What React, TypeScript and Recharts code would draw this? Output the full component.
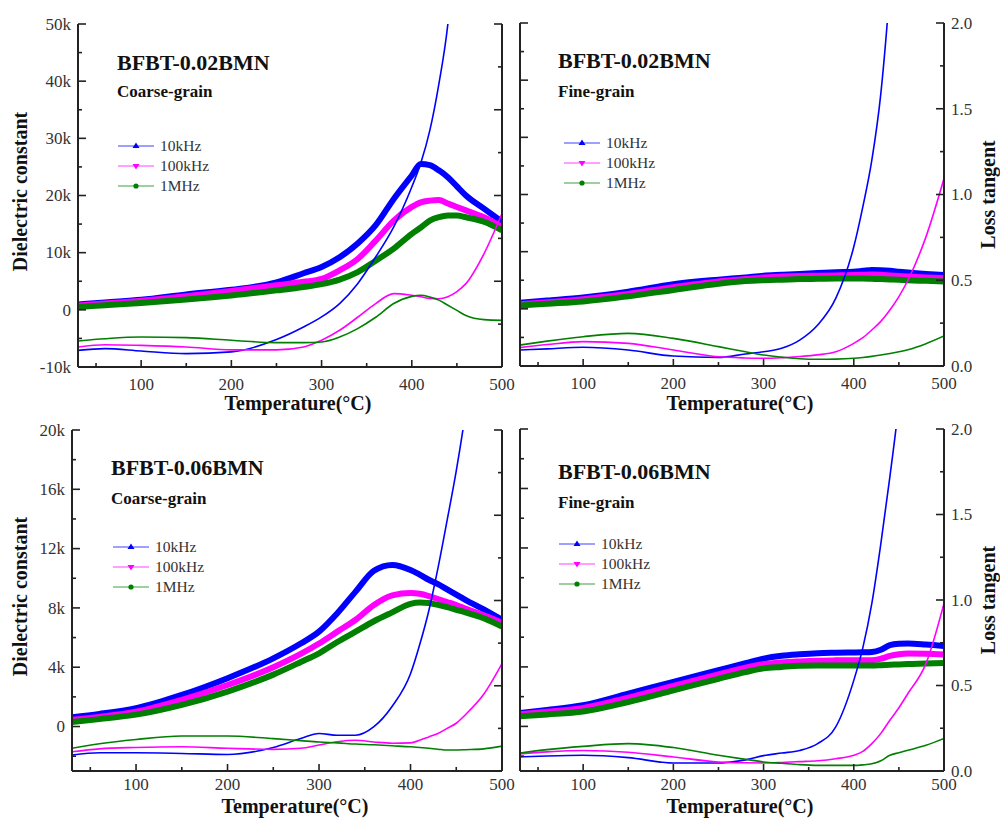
import { LineChart, Line, XAxis, YAxis, Legend } from 'recharts';

// temperature grid (°C) shared by every curve
const TEMPS = [30, 60, 100, 150, 200, 250, 280, 300, 320, 340, 360, 380, 400, 410, 420, 430, 440, 450, 460, 480, 500];

// BFBT-0.02BMN coarse-grain
const eps02c10k = [930, 1300, 1750, 2700, 3500, 4800, 6400, 7500, 9200, 11600, 14800, 19400, 23500, 25500, 25300, 24400, 23200, 21600, 20000, 17700, 15400];
const eps02c100k = [750, 1100, 1600, 2400, 3300, 4300, 4900, 5400, 6900, 8900, 12100, 15600, 18000, 18800, 19100, 19200, 18600, 18000, 17400, 16200, 14500];
const eps02c1m = [500, 800, 1200, 1800, 2500, 3400, 4000, 4500, 5300, 6600, 8600, 10700, 13300, 14400, 15600, 16200, 16500, 16500, 16200, 15400, 13900];
const tan02c10k = [0.097, 0.107, 0.093, 0.078, 0.088, 0.16, 0.233, 0.292, 0.37, 0.486, 0.642, 0.817, 1.05, 1.19, 1.38, 1.65, 2.0, 2.6, 3.3, 5, 7];
const tan02c100k = [0.117, 0.13, 0.126, 0.117, 0.1, 0.1, 0.117, 0.156, 0.214, 0.29, 0.37, 0.428, 0.418, 0.41, 0.4, 0.398, 0.41, 0.44, 0.486, 0.66, 0.895];
const tan02c1m = [0.152, 0.165, 0.175, 0.171, 0.156, 0.142, 0.142, 0.146, 0.175, 0.224, 0.29, 0.37, 0.412, 0.418, 0.408, 0.39, 0.36, 0.33, 0.3, 0.276, 0.272];

// BFBT-0.02BMN fine-grain
const eps02f10k = [1050, 1450, 2000, 3000, 4300, 5100, 5500, 5800, 5950, 6100, 6250, 6400, 6500, 6650, 6800, 6750, 6650, 6500, 6350, 6100, 5900];
const eps02f100k = [800, 1150, 1700, 2600, 3800, 4800, 5200, 5500, 5650, 5750, 5800, 5850, 5900, 5950, 6000, 5950, 5850, 5750, 5650, 5500, 5400];
const eps02f1m = [600, 900, 1300, 2200, 3300, 4400, 4850, 5000, 5100, 5200, 5250, 5300, 5300, 5300, 5250, 5200, 5150, 5100, 5000, 4900, 4800];
const tan02f10k = [0.093, 0.1, 0.109, 0.093, 0.058, 0.05, 0.07, 0.083, 0.103, 0.151, 0.239, 0.394, 0.695, 0.928, 1.2, 1.59, 2.2, 3.0, 4, 6, 8];
const tan02f100k = [0.107, 0.125, 0.142, 0.132, 0.093, 0.054, 0.047, 0.045, 0.048, 0.055, 0.065, 0.083, 0.132, 0.165, 0.21, 0.26, 0.326, 0.405, 0.5, 0.753, 1.093];
const tan02f1m = [0.122, 0.145, 0.171, 0.19, 0.161, 0.113, 0.083, 0.064, 0.052, 0.042, 0.039, 0.04, 0.045, 0.05, 0.056, 0.064, 0.073, 0.083, 0.095, 0.13, 0.175];

// BFBT-0.06BMN coarse-grain
const eps06c10k = [630, 850, 1240, 2130, 3260, 4600, 5600, 6400, 7640, 9100, 10500, 10900, 10560, 10250, 9900, 9600, 9250, 8900, 8550, 7900, 7200];
const eps06c100k = [450, 650, 1000, 1800, 2800, 4000, 4900, 5600, 6400, 7200, 8200, 8850, 9000, 8950, 8800, 8600, 8400, 8200, 7950, 7500, 7000];
const eps06c1m = [300, 500, 800, 1460, 2360, 3500, 4350, 4940, 5700, 6400, 7100, 7700, 8270, 8360, 8330, 8200, 8050, 7870, 7700, 7300, 6740];
const tan06c10k = [0.094, 0.107, 0.107, 0.103, 0.097, 0.138, 0.19, 0.22, 0.21, 0.21, 0.26, 0.38, 0.57, 0.74, 0.94, 1.19, 1.47, 1.76, 2.1, 3, 4];
const tan06c100k = [0.113, 0.13, 0.138, 0.142, 0.133, 0.127, 0.133, 0.152, 0.172, 0.18, 0.17, 0.163, 0.165, 0.18, 0.2, 0.22, 0.25, 0.28, 0.33, 0.45, 0.63];
const tan06c1m = [0.133, 0.16, 0.185, 0.205, 0.205, 0.19, 0.178, 0.17, 0.165, 0.158, 0.154, 0.148, 0.142, 0.138, 0.133, 0.128, 0.123, 0.123, 0.125, 0.13, 0.146];

// BFBT-0.06BMN fine-grain
const eps06f10k = [900, 1100, 1420, 2200, 3000, 3780, 4250, 4560, 4750, 4850, 4920, 4950, 4970, 4980, 5000, 5150, 5460, 5550, 5570, 5500, 5400];
const eps06f100k = [820, 980, 1240, 1940, 2720, 3490, 3950, 4180, 4300, 4370, 4420, 4440, 4450, 4450, 4450, 4550, 4740, 4850, 4900, 4880, 4830];
const eps06f1m = [680, 800, 1000, 1640, 2420, 3200, 3650, 3900, 4000, 4080, 4100, 4100, 4100, 4100, 4100, 4120, 4150, 4170, 4200, 4230, 4270];
const tan06f10k = [0.082, 0.088, 0.092, 0.078, 0.047, 0.047, 0.065, 0.09, 0.105, 0.12, 0.16, 0.258, 0.53, 0.72, 0.98, 1.33, 1.72, 2.15, 2.7, 4, 5.5];
const tan06f100k = [0.1, 0.112, 0.12, 0.11, 0.082, 0.053, 0.048, 0.047, 0.05, 0.055, 0.06, 0.072, 0.092, 0.115, 0.16, 0.22, 0.297, 0.37, 0.453, 0.628, 0.98];
const tan06f1m = [0.105, 0.125, 0.144, 0.16, 0.137, 0.092, 0.068, 0.053, 0.045, 0.037, 0.033, 0.033, 0.033, 0.036, 0.042, 0.06, 0.092, 0.107, 0.121, 0.15, 0.19];

// ticks (minor + major)
const X_TICKS = [50, 100, 150, 200, 250, 300, 350, 400, 450, 500];
const EPS_TICKS_02 = [-10000, -5000, 0, 5000, 10000, 15000, 20000, 25000, 30000, 35000, 40000, 45000, 50000];
const EPS_TICKS_06 = [-2000, 0, 2000, 4000, 6000, 8000, 10000, 12000, 14000, 16000, 18000, 20000];
const TAN_TICKS = [0, 0.25, 0.5, 0.75, 1, 1.25, 1.5, 1.75, 2];

const SERIES_NAMES = ['10kHz', '100kHz', '1MHz'];
const EPS_KEYS = ['e10k', 'e100k', 'e1m'];
const TAN_KEYS = ['d10k', 'd100k', 'd1m'];

const BLUE = '#0000ff';
const MAGENTA = '#ff00ff';
const GREEN = '#007f00';
const FRAME = '#222';
const FONT = "'Liberation Serif', 'Times New Roman', serif";

const LEFT_W = 70;
const RIGHT_W = 56;
const TOP_M = 10;
const XAXIS_H = 48;

const TICK_STYLE = { fontFamily: FONT, fontSize: 17, fill: '#333' };
const AXIS_TITLE = { fontFamily: FONT, fontSize: 20, fontWeight: 700, fill: '#111' };

type Panel = {
  title: string;
  sub: string;
  plot: { x0: number; y0: number; x1: number; y1: number };
  epsDomain: [number, number];
  epsTicks: number[];
  epsMajor: number;
  side: 'left' | 'right';
  eps: number[][];
  tan: number[][];
  titleAt: [number, number];
  subAt: [number, number];
  legendAt: [number, number];
  xTickDy: number;
  xTitleDy: number;
};

const PANELS: Panel[] = [
  {
    title: 'BFBT-0.02BMN', sub: 'Coarse-grain',
    plot: { x0: 78, y0: 24, x1: 502, y1: 367 },
    epsDomain: [-10000, 50000], epsTicks: EPS_TICKS_02, epsMajor: 10000, side: 'left',
    eps: [eps02c10k, eps02c100k, eps02c1m], tan: [tan02c10k, tan02c100k, tan02c1m],
    titleAt: [117, 70], subAt: [117, 97], legendAt: [118, 136], xTickDy: 23, xTitleDy: 43,
  },
  {
    title: 'BFBT-0.02BMN', sub: 'Fine-grain',
    plot: { x0: 520, y0: 23, x1: 944, y1: 366 },
    epsDomain: [-10000, 50000], epsTicks: EPS_TICKS_02, epsMajor: 10000, side: 'right',
    eps: [eps02f10k, eps02f100k, eps02f1m], tan: [tan02f10k, tan02f100k, tan02f1m],
    titleAt: [558, 68], subAt: [558, 97], legendAt: [564, 133], xTickDy: 23, xTitleDy: 44,
  },
  {
    title: 'BFBT-0.06BMN', sub: 'Coarse-grain',
    plot: { x0: 72, y0: 430, x1: 502, y1: 771 },
    epsDomain: [-3000, 20000], epsTicks: EPS_TICKS_06, epsMajor: 4000, side: 'left',
    eps: [eps06c10k, eps06c100k, eps06c1m], tan: [tan06c10k, tan06c100k, tan06c1m],
    titleAt: [111, 475], subAt: [111, 504], legendAt: [113, 537], xTickDy: 19, xTitleDy: 42,
  },
  {
    title: 'BFBT-0.06BMN', sub: 'Fine-grain',
    plot: { x0: 520, y0: 429, x1: 944, y1: 771 },
    epsDomain: [-3000, 20000], epsTicks: EPS_TICKS_06, epsMajor: 4000, side: 'right',
    eps: [eps06f10k, eps06f100k, eps06f1m], tan: [tan06f10k, tan06f100k, tan06f1m],
    titleAt: [558, 479], subAt: [558, 508], legendAt: [559, 534], xTickDy: 19, xTitleDy: 42,
  },
];

const fmtK = (v: number) => (v === 0 ? '0' : `${v / 1000}k`);
const isMajor = (v: number, step: number) => Math.abs(v / step - Math.round(v / step)) < 1e-6;

const xTick = (dy: number) => (p: any) => {
  const v = p.payload.value;
  const major = isMajor(v, 100);
  return (
    <g>
      <line x1={p.x} x2={p.x} y1={p.y} y2={p.y - (major ? 7 : 4)} stroke={FRAME} strokeWidth={1.6} />
      {major && (
        <text x={p.x} y={p.y + dy} textAnchor="middle" style={TICK_STYLE}>
          {v}
        </text>
      )}
    </g>
  );
};

const epsTick = (show: boolean, step: number) => (p: any) => {
  const v = p.payload.value;
  const major = isMajor(v, step);
  return (
    <g>
      <line x1={p.x} x2={p.x + (major ? 8 : 4)} y1={p.y} y2={p.y} stroke={FRAME} strokeWidth={1.6} />
      {show && major && (
        <text x={p.x - 7} y={p.y} dy="0.34em" textAnchor="end" style={TICK_STYLE}>
          {fmtK(v)}
        </text>
      )}
    </g>
  );
};

const tanTick = (show: boolean) => (p: any) => {
  const v = p.payload.value;
  const major = isMajor(v, 0.5);
  return (
    <g>
      <line x1={p.x} x2={p.x - (major ? 8 : 4)} y1={p.y} y2={p.y} stroke={FRAME} strokeWidth={1.6} />
      {show && major && (
        <text x={p.x + 7} y={p.y} dy="0.34em" textAnchor="start" style={TICK_STYLE}>
          {v.toFixed(1)}
        </text>
      )}
    </g>
  );
};

const marker = (key: string, color: string) => {
  if (key === 'e10k') return <polygon points="18,6.5 21.5,12 14.5,12" fill={color} />;
  if (key === 'e100k') return <polygon points="14.5,8 21.5,8 18,13.5" fill={color} />;
  return <circle cx={18} cy={10} r={2.6} fill={color} />;
};

const renderLegend = (props: any) => {
  const items = (props.payload || [])
    .filter((e: any) => EPS_KEYS.includes(String(e.dataKey)))
    .sort((a: any, b: any) => EPS_KEYS.indexOf(String(a.dataKey)) - EPS_KEYS.indexOf(String(b.dataKey)));
  return (
    <div style={{ fontFamily: FONT, fontSize: 15.5, color: '#333' }}>
      {items.map((e: any) => (
        <div key={e.value} style={{ display: 'flex', alignItems: 'center', height: 20 }}>
          <svg width={42} height={20} style={{ display: 'block' }}>
            <line x1={0} x2={36} y1={10} y2={10} stroke={e.color} strokeWidth={1.3} strokeOpacity={0.5} />
            {marker(String(e.dataKey), e.color)}
          </svg>
          <span style={{ lineHeight: '20px' }}>{e.value}</span>
        </div>
      ))}
    </div>
  );
};

function PanelChart({ cfg }: { cfg: Panel }) {
  const { x0, y0, x1, y1 } = cfg.plot;
  const left = x0 - LEFT_W;
  const top = y0 - TOP_M;
  const width = x1 - x0 + LEFT_W + RIGHT_W;
  const height = y1 - y0 + TOP_M + XAXIS_H;
  const plotBottom = height - XAXIS_H;
  const onLeft = cfg.side === 'left';

  const data = TEMPS.map((t, i) => ({
    t,
    e10k: cfg.eps[0][i],
    e100k: cfg.eps[1][i],
    e1m: cfg.eps[2][i],
    d10k: cfg.tan[0][i],
    d100k: cfg.tan[1][i],
    d1m: cfg.tan[2][i],
  }));

  const frame = { stroke: FRAME, strokeWidth: 2 };
  const colors = [BLUE, MAGENTA, GREEN];

  return (
    <div style={{ position: 'absolute', left, top, width, height }}>
      <LineChart width={width} height={height} data={data} margin={{ top: TOP_M, right: 0, bottom: 0, left: 0 }}>
        <XAxis
          xAxisId="b"
          dataKey="t"
          type="number"
          domain={[30, 500]}
          ticks={X_TICKS}
          interval={0}
          height={XAXIS_H}
          tickSize={0}
          tickMargin={0}
          tickLine={false}
          axisLine={frame}
          tick={xTick(cfg.xTickDy)}
          allowDataOverflow
          label={() => (
            <text x={LEFT_W + (x1 - x0) / 2 + 8} y={plotBottom + cfg.xTitleDy} textAnchor="middle" style={AXIS_TITLE}>
              Temperature(°C)
            </text>
          )}
        />
        <XAxis
          xAxisId="t"
          orientation="top"
          dataKey="t"
          type="number"
          domain={[30, 500]}
          height={0}
          tick={false}
          tickLine={false}
          axisLine={frame}
          allowDataOverflow
        />
        <YAxis
          yAxisId="eps"
          type="number"
          domain={cfg.epsDomain}
          ticks={cfg.epsTicks}
          interval={0}
          width={LEFT_W}
          tickSize={0}
          tickMargin={0}
          tickLine={false}
          axisLine={frame}
          tick={epsTick(onLeft, cfg.epsMajor)}
          allowDataOverflow
          label={
            onLeft
              ? () => {
                  const bx = 26.5 - left;
                  const cy = TOP_M + (y1 - y0) / 2 - 4;
                  return (
                    <text x={bx} y={cy} textAnchor="middle" transform={`rotate(-90 ${bx} ${cy})`} style={AXIS_TITLE}>
                      Dielectric constant
                    </text>
                  );
                }
              : undefined
          }
        />
        <YAxis
          yAxisId="tan"
          orientation="right"
          type="number"
          domain={[0, 2]}
          ticks={TAN_TICKS}
          interval={0}
          width={RIGHT_W}
          tickSize={0}
          tickMargin={0}
          tickLine={false}
          axisLine={frame}
          tick={tanTick(!onLeft)}
          allowDataOverflow
          label={
            !onLeft
              ? () => {
                  const bx = 995 - left;
                  const cy = TOP_M + (y1 - y0) / 2;
                  return (
                    <text x={bx} y={cy} textAnchor="middle" transform={`rotate(-90 ${bx} ${cy})`} style={AXIS_TITLE}>
                      Loss tangent
                    </text>
                  );
                }
              : undefined
          }
        />
        <Legend
          layout="vertical"
          align="center"
          verticalAlign="middle"
          content={renderLegend}
          wrapperStyle={{ left: cfg.legendAt[0] - left, top: cfg.legendAt[1] - top, width: 'auto', height: 'auto' }}
        />
        {EPS_KEYS.map((k, i) => (
          <Line
            key={k}
            xAxisId="b"
            yAxisId="eps"
            type="monotone"
            dataKey={k}
            name={SERIES_NAMES[i]}
            stroke={colors[i]}
            strokeWidth={6}
            strokeLinejoin="round"
            dot={false}
            activeDot={false}
            isAnimationActive={false}
          />
        ))}
        {TAN_KEYS.map((k, i) => (
          <Line
            key={k}
            xAxisId="b"
            yAxisId="tan"
            type="monotone"
            dataKey={k}
            name={`${SERIES_NAMES[i]} tan`}
            legendType="none"
            stroke={colors[i]}
            strokeWidth={1.6}
            dot={false}
            activeDot={false}
            isAnimationActive={false}
          />
        ))}
        <text x={cfg.titleAt[0] - left} y={cfg.titleAt[1] - top} style={{ fontFamily: FONT, fontSize: 22, fontWeight: 700, fill: '#111' }}>
          {cfg.title}
        </text>
        <text x={cfg.subAt[0] - left} y={cfg.subAt[1] - top} style={{ fontFamily: FONT, fontSize: 17, fontWeight: 700, fill: '#111' }}>
          {cfg.sub}
        </text>
      </LineChart>
    </div>
  );
}

export default function App() {
  return (
    <div style={{ position: 'absolute', left: 0, top: 0, width: 1000, height: 820, overflow: 'hidden', background: '#fff' }}>
      {PANELS.map((p, i) => (
        <PanelChart key={i} cfg={p} />
      ))}
    </div>
  );
}
